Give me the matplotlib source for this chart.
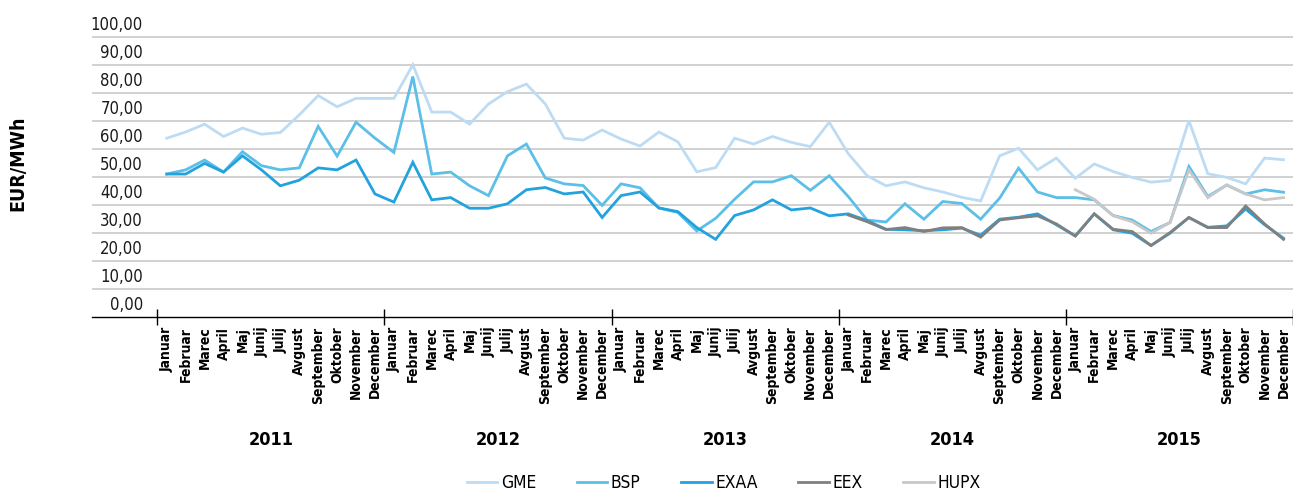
import numpy as np
import matplotlib
matplotlib.use("Agg")
import matplotlib.pyplot as plt
from matplotlib import font_manager as fm
from matplotlib.transforms import blended_transform_factory, ScaledTranslation

# ---------------- data ----------------
years = ["2011", "2012", "2013", "2014", "2015"]
months = ["Januar", "Februar", "Marec", "April", "Maj", "Junij", "Julij",
          "Avgust", "September", "Oktober", "November", "December"]

gme = [63.8, 66.0, 68.8, 64.4, 67.4, 65.2, 65.8, 72.1, 79.0, 75.0, 78.0, 78.0,
       78.0, 90.0, 73.1, 73.1, 68.8, 76.0, 80.4, 83.1, 76.0, 63.8, 63.1, 66.7,
       63.5, 61.0, 66.0, 62.5, 51.8, 53.3, 63.8, 61.7, 64.4, 62.3, 60.8, 69.5,
       58.3, 50.4, 46.8, 48.2, 46.1, 44.6, 42.7, 41.4, 57.5, 60.2, 52.5, 56.7,
       49.5, 54.6, 51.9, 49.8, 48.1, 48.7, 70.1, 51.1, 49.8, 47.5, 56.7, 56.1]
bsp = [51.0, 52.5, 56.0, 51.7, 59.0, 54.0, 52.5, 53.2, 68.0, 57.4, 69.5, 63.8,
       58.7, 85.8, 51.0, 51.7, 46.8, 43.3, 57.5, 61.7, 49.6, 47.5, 46.9, 39.8,
       47.5, 46.1, 38.9, 37.3, 30.7, 35.2, 42.0, 48.2, 48.2, 50.4, 45.2, 50.4,
       43.0, 34.6, 33.9, 40.4, 34.9, 41.2, 40.5, 34.9, 42.4, 53.1, 44.6, 42.6,
       42.6, 41.8, 36.2, 34.6, 30.5, 33.7, 53.7, 43.0, 47.1, 43.9, 45.4, 44.5]
exaa = [51.0, 51.0, 54.8, 51.7, 57.5, 52.5, 46.8, 48.8, 53.2, 52.5, 56.0, 43.9,
        41.0, 55.2, 41.8, 42.6, 38.8, 38.8, 40.4, 45.4, 46.2, 43.9, 44.6, 35.5,
        43.3, 44.6, 38.9, 37.6, 31.9, 27.7, 36.2, 38.2, 41.8, 38.2, 38.9, 36.1,
        36.8, 34.4, 31.3, 31.1, 30.8, 31.1, 31.7, 29.2, 34.9, 35.6, 36.8, 32.9,
        28.9, 36.8, 31.1, 29.9, 25.5, 29.9, 35.5, 32.0, 32.5, 38.5, 32.9, 28.1]
eex = [None] * 36 + [
       36.4, 34.0, 31.2, 31.9, 30.5, 31.8, 31.9, 28.5, 34.6, 35.4, 36.1, 33.2,
       28.9, 36.8, 31.3, 30.5, 25.5, 30.1, 35.5, 31.9, 31.9, 39.6, 33.2, 27.7]
hupx = [None] * 48 + [
        45.4, 42.0, 36.1, 34.0, 29.9, 33.7, 52.5, 42.6, 47.1, 43.9, 41.8, 42.6]

series_names = ["GME", "BSP", "EXAA", "EEX", "HUPX"]
series_values = [gme, bsp, exaa, eex, hupx]
series_colors = ["#bddcf4", "#5bbfe8", "#22a3dd", "#808080", "#c8c8c8"]

y_ticks = [0, 10, 20, 30, 40, 50, 60, 70, 80, 90, 100]
y_label = "EUR/MWh"

# ---------------- fonts ----------------
avail = {f.name for f in fm.fontManager.ttflist}
if "Liberation Sans Narrow" in avail:
    NARROW = dict(family="Liberation Sans Narrow")
else:
    NARROW = dict(family="DejaVu Sans", stretch="condensed")

# ---------------- figure ----------------
W, H = 1293, 491
fig = plt.figure(figsize=(W / 100, H / 100), dpi=100)

px_left, px_right = 92, 1293
px_bottom = 317
unit_px = 2.803
ymax = 101
px_top = px_bottom - unit_px * ymax
ax = fig.add_axes([px_left / W, 1 - px_bottom / H,
                   (px_right - px_left) / W, (px_bottom - px_top) / H])

n = len(gme)
x = np.arange(n)
step = 19.04
x0 = 167.2
ax.set_xlim((px_left - x0) / step, (px_right - x0) / step)
ax.set_ylim(0, ymax)

for name, vals, col in zip(series_names, series_values, series_colors):
    v = np.array([np.nan if a is None else a for a in vals], dtype=float)
    ax.plot(x, v, color=col, lw=2.0, label=name, solid_joinstyle="miter", zorder=3)

# grid
for t in y_ticks[1:]:
    ax.axhline(t, color="#c9c9c9", lw=1.2, zorder=1)

for s in ["top", "right", "left"]:
    ax.spines[s].set_visible(False)
ax.spines["bottom"].set_color("black")
ax.spines["bottom"].set_linewidth(1.0)
ax.spines["bottom"].set_zorder(4)

# y tick labels (placed above their gridlines, as in reference)
ax.set_yticks([])
ylab_trans = blended_transform_factory(fig.transFigure, ax.transData) + \
    ScaledTranslation(0, 11.5 / 100, fig.dpi_scale_trans)
for t in y_ticks:
    ax.text(143 / W, t, f"{t},00", transform=ylab_trans, ha="right", va="center",
            fontsize=12, color="#1a1a1a", **NARROW)

# x axis: year boundaries as major ticks, months as minor labels
boundaries = [-0.5 + 12 * k for k in range(len(years))] + [n - 0.5]
ax.set_xticks(boundaries)
ax.set_xticklabels([""] * len(boundaries))
ax.tick_params(axis="x", which="major", direction="inout", length=11, width=1.0,
               color="black")
ax.set_xticks(x, minor=True)
ax.set_xticklabels(months * len(years), minor=True, rotation=90,
                   fontsize=10, fontweight="bold", **NARROW)
ax.tick_params(axis="x", which="minor", length=0, pad=7)

# year labels
yr_trans = blended_transform_factory(ax.transData, fig.transFigure)
for k, yr in enumerate(years):
    ax.text(5.5 + 12 * k, 1 - 440 / H, yr, transform=yr_trans, ha="center",
            va="center", fontsize=13, fontweight="bold", **NARROW)

# y axis title
fig.text(18 / W, 1 - 163 / H, y_label, rotation=90, ha="center", va="center",
         fontsize=14, fontweight="bold", **NARROW)

# legend
leg = fig.legend(loc="center", bbox_to_anchor=(723.75 / W, 1 - 483 / H),
                 ncol=5, frameon=False, handlelength=1.75, handletextpad=0.2,
                 columnspacing=2.35,
                 prop=fm.FontProperties(size=12.5, **NARROW))

fig.savefig("out.png", dpi=100)
